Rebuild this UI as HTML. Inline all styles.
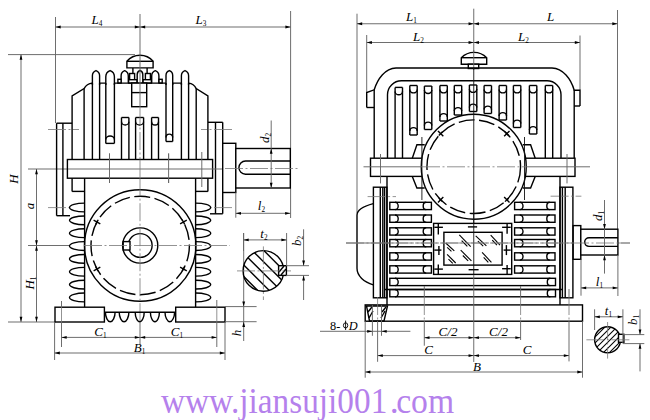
<!DOCTYPE html>
<html><head><meta charset="utf-8"><style>
html,body{margin:0;padding:0;background:#fff;width:650px;height:420px;overflow:hidden}
svg{display:block}
.k{stroke:#000;stroke-width:1.4;fill:none}
.t{stroke:#666;stroke-width:0.95;fill:none}
.c{stroke:#777;stroke-width:0.8;fill:none;stroke-dasharray:18 2.5 2 2.5}
.g{stroke:#000;stroke-width:1.1;fill:none}
.d{stroke:#111;stroke-width:0.9;fill:none}
.ah{fill:#000;stroke:none}
.lbl{font-family:"Liberation Serif",serif;font-style:italic;fill:#000}
</style></head><body>
<svg width="650" height="420" viewBox="0 0 650 420">
<rect width="650" height="420" fill="#fff"/>
<line class="t" x1="55.5" y1="17" x2="55.5" y2="123"/>
<line class="t" x1="290.6" y1="11" x2="290.6" y2="218"/>
<line class="t" x1="140" y1="14" x2="140" y2="54"/>
<line class="t" x1="55.5" y1="27" x2="140" y2="27"/>
<path class="ah" d="M55.5,27L60.7,25.6L60.7,28.4Z"/>
<path class="ah" d="M140,27L134.8,28.4L134.8,25.6Z"/>
<line class="t" x1="140" y1="27" x2="290.6" y2="27"/>
<path class="ah" d="M140,27L145.2,25.6L145.2,28.4Z"/>
<path class="ah" d="M290.6,27L285.4,28.4L285.4,25.6Z"/>
<text class="lbl" x="97" y="24" font-size="13" text-anchor="middle">L<tspan font-size="7.28" font-style="normal" dy="2.2">4</tspan></text>
<text class="lbl" x="201" y="24" font-size="13" text-anchor="middle">L<tspan font-size="7.28" font-style="normal" dy="2.2">3</tspan></text>
<line class="t" x1="8" y1="54.6" x2="135" y2="54.6"/>
<line class="t" x1="21" y1="54.6" x2="21" y2="322"/>
<path class="ah" d="M21,54.6L22.4,59.8L19.6,59.8Z"/>
<path class="ah" d="M21,322L19.6,316.8L22.4,316.8Z"/>
<line class="t" x1="8" y1="322" x2="56" y2="322"/>
<text class="lbl" x="18" y="179" font-size="13" text-anchor="middle" transform="rotate(-90 18 179)">H</text>
<line class="t" x1="28" y1="169" x2="68" y2="169"/>
<line class="t" x1="36.5" y1="169" x2="36.5" y2="245.5"/>
<path class="ah" d="M36.5,169L37.9,174.2L35.1,174.2Z"/>
<path class="ah" d="M36.5,245.5L35.1,240.3L37.9,240.3Z"/>
<text class="lbl" x="34" y="206" font-size="13" text-anchor="middle" transform="rotate(-90 34 206)">a</text>
<line class="t" x1="28" y1="245.5" x2="84" y2="245.5"/>
<line class="t" x1="36.5" y1="245.5" x2="36.5" y2="322"/>
<path class="ah" d="M36.5,245.5L37.9,250.7L35.1,250.7Z"/>
<path class="ah" d="M36.5,322L35.1,316.8L37.9,316.8Z"/>
<text class="lbl" x="34" y="283" font-size="13" text-anchor="middle" transform="rotate(-90 34 283)">H<tspan font-size="7.28" font-style="normal" dy="2.2">1</tspan></text>
<path class="k" d="M126.9,61.3 A17.1,17.1 0 0 1 153.1,61.3 L153.1,67.9 L126.9,67.9 Z" style="fill:#fff"/>
<line class="k" x1="126.9" y1="61.3" x2="153.1" y2="61.3"/>
<path class="k" d="M132.9,67.9 L132.9,79.7 M147.1,67.9 L147.1,79.7"/>
<rect class="k" x="129.6" y="73.5" width="5" height="6.2" style="fill:#fff"/>
<rect class="k" x="145.4" y="73.5" width="5" height="6.2" style="fill:#fff"/>
<rect class="k" x="128.6" y="79.7" width="8.5" height="3.4" style="fill:#fff"/>
<rect class="k" x="142.9" y="79.7" width="8.5" height="3.4" style="fill:#fff"/>
<path class="k" d="M121.1,83.1 L121.1,75.88 A5.53,5.53 0 0 1 124.7,70.7 A5.53,5.53 0 0 1 128.3,75.88 L128.3,83.1" style="fill:#fff"/>
<path class="k" d="M151.7,83.1 L151.7,75.88 A5.53,5.53 0 0 1 155.3,70.7 A5.53,5.53 0 0 1 158.9,75.88 L158.9,83.1" style="fill:#fff"/>
<path class="k" d="M137.2,83.1 L137.2,74.53 A4.3,4.3 0 0 1 140,70.5 A4.3,4.3 0 0 1 142.8,74.53 L142.8,83.1" style="fill:#fff"/>
<rect class="k" x="117.9" y="79.3" width="3.2" height="3.8" style="fill:#fff"/>
<rect class="k" x="159" y="79.3" width="3.2" height="3.8" style="fill:#fff"/>
<line class="k" x1="91.7" y1="83.1" x2="188.3" y2="83.1"/>
<path class="k" d="M92.4,85 L92.4,75.78 A5.53,5.53 0 0 1 96,70.6 A5.53,5.53 0 0 1 99.6,75.78 L99.6,85" style="fill:#fff"/>
<path class="k" d="M105.8,85 L105.8,76.79 A6.61,6.61 0 0 1 110.1,70.6 A6.61,6.61 0 0 1 114.4,76.79 L114.4,85" style="fill:#fff"/>
<path class="k" d="M166,85 L166,75.42 A5.15,5.15 0 0 1 169.35,70.6 A5.15,5.15 0 0 1 172.7,75.42 L172.7,85" style="fill:#fff"/>
<path class="k" d="M181.4,85 L181.4,75.78 A5.53,5.53 0 0 1 185,70.6 A5.53,5.53 0 0 1 188.6,75.78 L188.6,85" style="fill:#fff"/>
<path class="k" d="M72.1,159.5 L72.1,95.9 L84.1,88.6 C86,85 88.5,83.5 92.4,83.1"/>
<path class="k" d="M207.9,159.5 L207.9,95.9 L196.2,88.6 C194.5,85 192,83.4 188.6,83.1"/>
<line class="k" x1="84.1" y1="88.6" x2="84.1" y2="159.5"/>
<line class="k" x1="196.2" y1="88.6" x2="196.2" y2="159.5"/>
<line class="k" x1="92.4" y1="83.1" x2="92.4" y2="159.5"/>
<line class="k" x1="99.6" y1="83.1" x2="99.6" y2="159.5"/>
<line class="k" x1="188.6" y1="83.1" x2="188.6" y2="159.5"/>
<line class="k" x1="181.4" y1="83.1" x2="181.4" y2="159.5"/>
<line class="k" x1="105.8" y1="83.1" x2="105.8" y2="143.4"/>
<line class="k" x1="114.4" y1="83.1" x2="114.4" y2="143.4"/>
<line class="k" x1="105.8" y1="143.4" x2="114.4" y2="143.4"/>
<path class="k" d="M105.8,139.4 A4.3,3.4 0 0 1 114.4,139.4"/>
<line class="k" x1="166" y1="83.1" x2="166" y2="141.5"/>
<line class="k" x1="172.7" y1="83.1" x2="172.7" y2="141.5"/>
<line class="k" x1="166" y1="141.5" x2="172.7" y2="141.5"/>
<path class="k" d="M166,137.5 A3.35,3.4 0 0 1 172.7,137.5"/>
<rect class="k" x="131.7" y="83.1" width="15" height="23.6" style="fill:#fff"/>
<line class="k" x1="131.7" y1="92.6" x2="146.7" y2="92.6"/>
<line class="k" x1="121.5" y1="117.5" x2="121.5" y2="159.5"/>
<line class="k" x1="128.9" y1="117.5" x2="128.9" y2="159.5"/>
<line class="k" x1="121.5" y1="117.5" x2="128.9" y2="117.5"/>
<path class="k" d="M121.5,121.7 A3.7,3.3 0 0 0 128.9,121.7"/>
<line class="k" x1="135.6" y1="117.5" x2="135.6" y2="159.5"/>
<line class="k" x1="143.6" y1="117.5" x2="143.6" y2="159.5"/>
<line class="k" x1="135.6" y1="117.5" x2="143.6" y2="117.5"/>
<path class="k" d="M135.6,121.7 A4,3.3 0 0 0 143.6,121.7"/>
<line class="k" x1="151.6" y1="117.5" x2="151.6" y2="159.5"/>
<line class="k" x1="158.5" y1="117.5" x2="158.5" y2="159.5"/>
<line class="k" x1="151.6" y1="117.5" x2="158.5" y2="117.5"/>
<path class="k" d="M151.6,121.7 A3.45,3.3 0 0 0 158.5,121.7"/>
<line class="t" x1="140" y1="54" x2="140" y2="107"/>
<line class="c" x1="140" y1="107" x2="140" y2="160"/>
<line class="t" x1="109.5" y1="153.5" x2="109.5" y2="183"/>
<line class="t" x1="168.6" y1="153.5" x2="168.6" y2="183"/>
<line class="k" x1="56.6" y1="123.2" x2="56.6" y2="215.7"/>
<line class="k" x1="62.9" y1="123.2" x2="62.9" y2="215.7"/>
<line class="k" x1="56.6" y1="123.2" x2="72.1" y2="123.2"/>
<line class="k" x1="56.6" y1="215.7" x2="70" y2="215.7"/>
<line class="k" x1="72.1" y1="159.5" x2="72.1" y2="191.4"/>
<line class="k" x1="72.1" y1="191.4" x2="84.6" y2="191.4"/>
<line class="c" x1="48" y1="129.5" x2="79" y2="129.5"/>
<line class="c" x1="48" y1="207.6" x2="70" y2="207.6"/>
<line class="k" x1="222.7" y1="122.3" x2="222.7" y2="213.8"/>
<line class="k" x1="215.5" y1="122.3" x2="215.5" y2="213.8"/>
<line class="k" x1="222.7" y1="122.3" x2="208" y2="122.3"/>
<line class="k" x1="222.7" y1="213.8" x2="210" y2="213.8"/>
<line class="k" x1="207.9" y1="159.5" x2="207.9" y2="191.4"/>
<line class="k" x1="207.9" y1="191.4" x2="195.4" y2="191.4"/>
<line class="c" x1="232" y1="129.5" x2="201" y2="129.5"/>
<line class="c" x1="232" y1="207.6" x2="210" y2="207.6"/>
<rect class="k" x="67.4" y="159.5" width="145.2" height="18.7" style="fill:#fff"/>
<line class="t" x1="68" y1="169" x2="225" y2="169"/>
<line class="t" x1="109.5" y1="153.5" x2="109.5" y2="183"/>
<line class="t" x1="168.6" y1="153.5" x2="168.6" y2="183"/>
<line class="c" x1="140" y1="159.5" x2="140" y2="178.2"/>
<line class="t" x1="201.8" y1="152" x2="201.8" y2="187"/>
<path class="k" d="M84.6,203.1 A15.1,4.4 0 0 0 84.6,211.9" style="fill:#fff"/>
<path class="k" d="M195.6,203.1 A15.1,4.4 0 0 1 195.6,211.9" style="fill:#fff"/>
<path class="k" d="M84.6,215.95 A15.1,4.4 0 0 0 84.6,224.75" style="fill:#fff"/>
<path class="k" d="M195.6,215.95 A15.1,4.4 0 0 1 195.6,224.75" style="fill:#fff"/>
<path class="k" d="M84.6,228.8 A15.1,4.4 0 0 0 84.6,237.6" style="fill:#fff"/>
<path class="k" d="M195.6,228.8 A15.1,4.4 0 0 1 195.6,237.6" style="fill:#fff"/>
<path class="k" d="M84.6,241.65 A15.1,4.4 0 0 0 84.6,250.45" style="fill:#fff"/>
<path class="k" d="M195.6,241.65 A15.1,4.4 0 0 1 195.6,250.45" style="fill:#fff"/>
<path class="k" d="M84.6,254.5 A15.1,4.4 0 0 0 84.6,263.3" style="fill:#fff"/>
<path class="k" d="M195.6,254.5 A15.1,4.4 0 0 1 195.6,263.3" style="fill:#fff"/>
<path class="k" d="M84.6,267.35 A15.1,4.4 0 0 0 84.6,276.15" style="fill:#fff"/>
<path class="k" d="M195.6,267.35 A15.1,4.4 0 0 1 195.6,276.15" style="fill:#fff"/>
<path class="k" d="M84.6,280.2 A15.1,4.4 0 0 0 84.6,289" style="fill:#fff"/>
<path class="k" d="M195.6,280.2 A15.1,4.4 0 0 1 195.6,289" style="fill:#fff"/>
<path class="k" d="M84.6,293.05 A15.1,4.4 0 0 0 84.6,301.85" style="fill:#fff"/>
<path class="k" d="M195.6,293.05 A15.1,4.4 0 0 1 195.6,301.85" style="fill:#fff"/>
<circle class="k" cx="140.2" cy="245.5" r="55.7" style="fill:#fff"/>
<circle class="k" cx="140.2" cy="245.5" r="49.2" stroke-dasharray="16 4.5"/>
<circle class="k" cx="140.2" cy="245.5" r="17.6" style="fill:#fff"/>
<circle class="k" cx="140.2" cy="245.5" r="11.9"/>
<rect class="k" x="123.2" y="241.6" width="6.8" height="8.4" style="fill:#fff"/>
<line class="k" x1="180.1" y1="223.84" x2="186.78" y2="220.21"/>
<line class="k" x1="184.68" y1="224.31" x2="182.2" y2="219.74"/>
<line class="k" x1="100.3" y1="223.84" x2="93.62" y2="220.21"/>
<line class="k" x1="98.2" y1="219.74" x2="95.72" y2="224.31"/>
<line class="k" x1="100.3" y1="267.16" x2="93.62" y2="270.79"/>
<line class="k" x1="95.72" y1="266.69" x2="98.2" y2="271.26"/>
<line class="k" x1="180.1" y1="267.16" x2="186.78" y2="270.79"/>
<line class="k" x1="182.2" y1="271.26" x2="184.68" y2="266.69"/>
<line class="k" x1="84.6" y1="178.2" x2="84.6" y2="307.2"/>
<line class="k" x1="195.6" y1="178.2" x2="195.6" y2="307.2"/>
<line class="c" x1="140" y1="178.2" x2="140" y2="322"/>
<line class="c" x1="84" y1="245.5" x2="230" y2="245.5"/>
<rect class="k" x="55" y="307.2" width="49.4" height="14.8" style="fill:#fff"/>
<rect class="k" x="175.7" y="307.2" width="49.3" height="14.8" style="fill:#fff"/>
<line class="k" x1="104.4" y1="312.3" x2="175.7" y2="312.3"/>
<path class="k" d="M105.4,312.3 C105.4,317 107.75,321.8 110.25,321.8 C112.75,321.8 115.1,317 115.1,312.3"/>
<path class="k" d="M119.2,312.3 C119.2,317 121.55,321.8 124.05,321.8 C126.55,321.8 128.9,317 128.9,312.3"/>
<path class="k" d="M135.2,312.3 C135.2,317 137.2,321.8 139.7,321.8 C142.2,321.8 144.2,317 144.2,312.3"/>
<path class="k" d="M150.4,312.3 C150.4,317 152.4,321.8 154.9,321.8 C157.4,321.8 159.4,317 159.4,312.3"/>
<path class="k" d="M165,312.3 C165,317 167.3,321.8 169.8,321.8 C172.3,321.8 174.6,317 174.6,312.3"/>
<line class="t" x1="140" y1="322" x2="140" y2="345"/>
<line class="t" x1="61.5" y1="301" x2="61.5" y2="307"/>
<line class="t" x1="216.8" y1="300" x2="216.8" y2="307"/>
<line class="c" x1="61.5" y1="307" x2="61.5" y2="322"/>
<line class="c" x1="216.8" y1="307" x2="216.8" y2="322"/>
<line class="t" x1="61.5" y1="322" x2="61.5" y2="347"/>
<line class="t" x1="216.8" y1="322" x2="216.8" y2="347"/>
<line class="t" x1="54.6" y1="322" x2="54.6" y2="360"/>
<line class="t" x1="225" y1="322" x2="225" y2="360"/>
<line class="t" x1="61.5" y1="337.4" x2="140" y2="337.4"/>
<path class="ah" d="M61.5,337.4L66.7,336L66.7,338.8Z"/>
<path class="ah" d="M140,337.4L134.8,338.8L134.8,336Z"/>
<line class="t" x1="140" y1="337.4" x2="216.8" y2="337.4"/>
<path class="ah" d="M140,337.4L145.2,336L145.2,338.8Z"/>
<path class="ah" d="M216.8,337.4L211.6,338.8L211.6,336Z"/>
<line class="t" x1="54.6" y1="353" x2="225" y2="353"/>
<path class="ah" d="M54.6,353L59.8,351.6L59.8,354.4Z"/>
<path class="ah" d="M225,353L219.8,354.4L219.8,351.6Z"/>
<text class="lbl" x="100.5" y="335.5" font-size="13" text-anchor="middle">C<tspan font-size="7.28" font-style="normal" dy="2.2">1</tspan></text>
<text class="lbl" x="177" y="335.5" font-size="13" text-anchor="middle">C<tspan font-size="7.28" font-style="normal" dy="2.2">1</tspan></text>
<text class="lbl" x="139.5" y="351.5" font-size="13" text-anchor="middle">B<tspan font-size="7.28" font-style="normal" dy="2.2">1</tspan></text>
<line class="t" x1="225" y1="306.6" x2="256.6" y2="306.6"/>
<line class="t" x1="225" y1="321.7" x2="256.6" y2="321.7"/>
<line class="t" x1="243.7" y1="233" x2="243.7" y2="306.6"/>
<path class="ah" d="M243.7,306.6L242.3,301.4L245.1,301.4Z"/>
<line class="t" x1="243.7" y1="306.6" x2="243.7" y2="341"/>
<path class="ah" d="M243.7,321.7L245.1,326.9L242.3,326.9Z"/>
<text class="lbl" x="241" y="333" font-size="13" text-anchor="middle" transform="rotate(-90 241 333)">h</text>
<rect class="k" x="222.7" y="143.3" width="13.1" height="49.2" style="fill:#fff"/>
<rect class="k" x="235.8" y="148.5" width="54.5" height="39.5" style="fill:#fff"/>
<path class="k" d="M290.3,161 L245.5,161 A6.6,6.6 0 0 0 245.5,174.2 L290.3,174.2"/>
<line class="c" x1="225" y1="168.5" x2="299" y2="168.5"/>
<line class="t" x1="271.2" y1="120.5" x2="271.2" y2="148.5"/>
<line class="t" x1="271.2" y1="148.5" x2="271.2" y2="188"/>
<path class="ah" d="M271.2,148.5L272.6,153.7L269.8,153.7Z"/>
<path class="ah" d="M271.2,188L269.8,182.8L272.6,182.8Z"/>
<text class="lbl" x="268.5" y="138" font-size="13" text-anchor="middle" transform="rotate(-90 268.5 138)">d<tspan font-size="7.28" font-style="normal" dy="2.2">2</tspan></text>
<line class="t" x1="235.8" y1="192.5" x2="235.8" y2="217.7"/>
<line class="t" x1="235.8" y1="213.3" x2="290.3" y2="213.3"/>
<path class="ah" d="M235.8,213.3L241,211.9L241,214.7Z"/>
<path class="ah" d="M290.3,213.3L285.1,214.7L285.1,211.9Z"/>
<text class="lbl" x="261.5" y="210" font-size="13" text-anchor="middle">l<tspan font-size="7.28" font-style="normal" dy="2.2">2</tspan></text>
<clipPath id="cl1"><circle cx="263.4" cy="270.9" r="20.3"/></clipPath>
<g clip-path="url(#cl1)"><line class="k" x1="240" y1="215.2" x2="290" y2="265.2"/><line class="k" x1="240" y1="226.7" x2="290" y2="276.7"/><line class="k" x1="240" y1="238.2" x2="290" y2="288.2"/><line class="k" x1="240" y1="249.7" x2="290" y2="299.7"/><line class="k" x1="240" y1="261.2" x2="290" y2="311.2"/><line class="k" x1="240" y1="272.7" x2="290" y2="322.7"/></g>
<circle class="k" cx="263.4" cy="270.9" r="20.3"/>
<rect class="k" x="278.6" y="265.7" width="7.8" height="9.7" style="fill:#fff"/>
<line class="k" x1="279" y1="272" x2="284" y2="266"/><line class="k" x1="281" y1="275" x2="286" y2="269"/>
<line class="c" x1="237" y1="270.9" x2="291" y2="270.9"/>
<line class="c" x1="263.4" y1="246.4" x2="263.4" y2="300"/>
<line class="t" x1="243.5" y1="233" x2="243.5" y2="251"/>
<line class="t" x1="286.6" y1="233" x2="286.6" y2="266"/>
<line class="t" x1="243.5" y1="239.9" x2="286.6" y2="239.9"/>
<path class="ah" d="M243.5,239.9L248.7,238.5L248.7,241.3Z"/>
<path class="ah" d="M286.6,239.9L281.4,241.3L281.4,238.5Z"/>
<text class="lbl" x="264" y="238" font-size="13" text-anchor="middle">t<tspan font-size="7.28" font-style="normal" dy="2.2">2</tspan></text>
<line class="t" x1="286" y1="265.7" x2="309" y2="265.7"/>
<line class="t" x1="286" y1="275.4" x2="309" y2="275.4"/>
<line class="t" x1="303.6" y1="229.3" x2="303.6" y2="265.7"/>
<path class="ah" d="M303.6,265.7L302.2,260.5L305,260.5Z"/>
<line class="t" x1="303.6" y1="275.4" x2="303.6" y2="300"/>
<path class="ah" d="M303.6,275.4L305,280.6L302.2,280.6Z"/>
<text class="lbl" x="300.5" y="241" font-size="13" text-anchor="middle" transform="rotate(-90 300.5 241)">b<tspan font-size="7.28" font-style="normal" dy="2.2">2</tspan></text>
<line class="t" x1="357" y1="13.7" x2="357" y2="213"/>
<line class="t" x1="366.7" y1="35" x2="366.7" y2="92"/>
<line class="t" x1="617.5" y1="10" x2="617.5" y2="229"/>
<line class="t" x1="580" y1="35.5" x2="580" y2="90"/>
<line class="t" x1="473.75" y1="8.7" x2="473.75" y2="70"/>
<line class="t" x1="357" y1="23.75" x2="473.75" y2="23.75"/>
<path class="ah" d="M357,23.75L362.2,22.35L362.2,25.15Z"/>
<path class="ah" d="M473.75,23.75L468.55,25.15L468.55,22.35Z"/>
<line class="t" x1="473.75" y1="23.75" x2="617.5" y2="23.75"/>
<path class="ah" d="M473.75,23.75L478.95,22.35L478.95,25.15Z"/>
<path class="ah" d="M617.5,23.75L612.3,25.15L612.3,22.35Z"/>
<line class="t" x1="366.7" y1="42.5" x2="473.75" y2="42.5"/>
<path class="ah" d="M366.7,42.5L371.9,41.1L371.9,43.9Z"/>
<path class="ah" d="M473.75,42.5L468.55,43.9L468.55,41.1Z"/>
<line class="t" x1="473.75" y1="42.5" x2="580" y2="42.5"/>
<path class="ah" d="M473.75,42.5L478.95,41.1L478.95,43.9Z"/>
<path class="ah" d="M580,42.5L574.8,43.9L574.8,41.1Z"/>
<text class="lbl" x="411.5" y="21" font-size="13" text-anchor="middle">L<tspan font-size="7.28" font-style="normal" dy="2.2">1</tspan></text>
<text class="lbl" x="550.5" y="21" font-size="13" text-anchor="middle">L</text>
<text class="lbl" x="418.5" y="40.5" font-size="13" text-anchor="middle">L<tspan font-size="7.28" font-style="normal" dy="2.2">2</tspan></text>
<text class="lbl" x="523.5" y="40.5" font-size="13" text-anchor="middle">L<tspan font-size="7.28" font-style="normal" dy="2.2">2</tspan></text>
<path class="k" d="M461.3,57.7 A17.8,17.8 0 0 1 486.7,57.7 L486.7,64.2 L461.3,64.2 Z" style="fill:#fff"/>
<line class="k" x1="461.3" y1="57.7" x2="486.7" y2="57.7"/>
<rect class="k" x="468.3" y="64.2" width="10.4" height="4.3" style="fill:#fff"/>
<line class="t" x1="473.75" y1="50" x2="473.75" y2="69"/>
<path class="k" d="M366.7,107.5 L366.7,92.6 L374.2,89.8 C377.5,79 385,68.3 396,68 L552,68 C563,68.3 571,79 574.2,90.2 L580,90.2 L580,106"/>
<line class="k" x1="366.7" y1="107.5" x2="374.2" y2="107.5"/>
<line class="k" x1="574.2" y1="106" x2="580" y2="106"/>
<line class="k" x1="374.2" y1="89.8" x2="374.2" y2="158.2"/>
<line class="k" x1="574.2" y1="90.2" x2="574.2" y2="158.2"/>
<path class="k" d="M387.5,158.2 L387.5,95 A14,14 0 0 1 401.5,80.8 L547,80.8 A14,14 0 0 1 561,95 L561,158.2"/>
<line class="k" x1="395.1" y1="87.4" x2="395.1" y2="158.2"/>
<line class="k" x1="402.5" y1="87.4" x2="402.5" y2="158.2"/>
<line class="k" x1="395.1" y1="87.4" x2="402.5" y2="87.4"/>
<path class="k" d="M395.1,91.4 A3.7,3.4 0 0 0 402.5,91.4"/>
<line class="k" x1="409.8" y1="85.5" x2="409.8" y2="135"/>
<line class="k" x1="417.2" y1="85.5" x2="417.2" y2="135"/>
<line class="k" x1="409.8" y1="85.5" x2="417.2" y2="85.5"/>
<path class="k" d="M409.8,89.5 A3.7,3.4 0 0 0 417.2,89.5"/>
<line class="k" x1="409.8" y1="135" x2="417.2" y2="135"/>
<path class="k" d="M409.8,131 A3.7,3.4 0 0 1 417.2,131"/>
<line class="k" x1="424.4" y1="86.1" x2="424.4" y2="129.5"/>
<line class="k" x1="431.8" y1="86.1" x2="431.8" y2="129.5"/>
<line class="k" x1="424.4" y1="86.1" x2="431.8" y2="86.1"/>
<path class="k" d="M424.4,90.1 A3.7,3.4 0 0 0 431.8,90.1"/>
<line class="k" x1="424.4" y1="129.5" x2="431.8" y2="129.5"/>
<path class="k" d="M424.4,125.5 A3.7,3.4 0 0 1 431.8,125.5"/>
<line class="k" x1="439.9" y1="85.5" x2="439.9" y2="121"/>
<line class="k" x1="447.3" y1="85.5" x2="447.3" y2="121"/>
<line class="k" x1="439.9" y1="85.5" x2="447.3" y2="85.5"/>
<path class="k" d="M439.9,89.5 A3.7,3.4 0 0 0 447.3,89.5"/>
<line class="k" x1="439.9" y1="121" x2="447.3" y2="121"/>
<path class="k" d="M439.9,117 A3.7,3.4 0 0 1 447.3,117"/>
<line class="k" x1="454.3" y1="85.5" x2="454.3" y2="115"/>
<line class="k" x1="461.7" y1="85.5" x2="461.7" y2="115"/>
<line class="k" x1="454.3" y1="85.5" x2="461.7" y2="85.5"/>
<path class="k" d="M454.3,89.5 A3.7,3.4 0 0 0 461.7,89.5"/>
<line class="k" x1="454.3" y1="115" x2="461.7" y2="115"/>
<path class="k" d="M454.3,111 A3.7,3.4 0 0 1 461.7,111"/>
<line class="k" x1="469.4" y1="85" x2="469.4" y2="111.5"/>
<line class="k" x1="476.8" y1="85" x2="476.8" y2="111.5"/>
<line class="k" x1="469.4" y1="85" x2="476.8" y2="85"/>
<path class="k" d="M469.4,89 A3.7,3.4 0 0 0 476.8,89"/>
<line class="k" x1="469.4" y1="111.5" x2="476.8" y2="111.5"/>
<path class="k" d="M469.4,107.5 A3.7,3.4 0 0 1 476.8,107.5"/>
<line class="k" x1="484.1" y1="85.5" x2="484.1" y2="113.5"/>
<line class="k" x1="491.5" y1="85.5" x2="491.5" y2="113.5"/>
<line class="k" x1="484.1" y1="85.5" x2="491.5" y2="85.5"/>
<path class="k" d="M484.1,89.5 A3.7,3.4 0 0 0 491.5,89.5"/>
<line class="k" x1="484.1" y1="113.5" x2="491.5" y2="113.5"/>
<path class="k" d="M484.1,109.5 A3.7,3.4 0 0 1 491.5,109.5"/>
<line class="k" x1="499.1" y1="85.5" x2="499.1" y2="120"/>
<line class="k" x1="506.5" y1="85.5" x2="506.5" y2="120"/>
<line class="k" x1="499.1" y1="85.5" x2="506.5" y2="85.5"/>
<path class="k" d="M499.1,89.5 A3.7,3.4 0 0 0 506.5,89.5"/>
<line class="k" x1="499.1" y1="120" x2="506.5" y2="120"/>
<path class="k" d="M499.1,116 A3.7,3.4 0 0 1 506.5,116"/>
<line class="k" x1="513.4" y1="85.5" x2="513.4" y2="127.5"/>
<line class="k" x1="520.8" y1="85.5" x2="520.8" y2="127.5"/>
<line class="k" x1="513.4" y1="85.5" x2="520.8" y2="85.5"/>
<path class="k" d="M513.4,89.5 A3.7,3.4 0 0 0 520.8,89.5"/>
<line class="k" x1="513.4" y1="127.5" x2="520.8" y2="127.5"/>
<path class="k" d="M513.4,123.5 A3.7,3.4 0 0 1 520.8,123.5"/>
<line class="k" x1="529.4" y1="85.5" x2="529.4" y2="134"/>
<line class="k" x1="536.8" y1="85.5" x2="536.8" y2="134"/>
<line class="k" x1="529.4" y1="85.5" x2="536.8" y2="85.5"/>
<path class="k" d="M529.4,89.5 A3.7,3.4 0 0 0 536.8,89.5"/>
<line class="k" x1="529.4" y1="134" x2="536.8" y2="134"/>
<path class="k" d="M529.4,130 A3.7,3.4 0 0 1 536.8,130"/>
<line class="k" x1="545.3" y1="85.5" x2="545.3" y2="158.2"/>
<line class="k" x1="552.7" y1="85.5" x2="552.7" y2="158.2"/>
<line class="k" x1="545.3" y1="85.5" x2="552.7" y2="85.5"/>
<path class="k" d="M545.3,89.5 A3.7,3.4 0 0 0 552.7,89.5"/>
<rect class="k" x="370.5" y="158.2" width="204.5" height="18.2" style="fill:#fff"/>
<path class="k" d="M412.3,158.2 L416.9,144.7 L424.7,144.7"/>
<path class="k" d="M412.3,176.4 L416.9,188 L424.7,188"/>
<line class="t" x1="380.5" y1="154" x2="380.5" y2="183.4"/>
<path class="k" d="M535.2,158.2 L530.6,144.7 L522.8,144.7"/>
<path class="k" d="M535.2,176.4 L530.6,188 L522.8,188"/>
<line class="t" x1="567" y1="154" x2="567" y2="183.4"/>
<circle class="k" cx="473.75" cy="166.7" r="52.5" style="fill:#fff"/>
<line class="d" x1="421.9" y1="137" x2="421.9" y2="200"/>
<line class="d" x1="524.5" y1="137" x2="524.5" y2="200"/>
<circle class="k" cx="473.75" cy="166.7" r="46.8" stroke-dasharray="16 4.5"/>
<line class="k" x1="504.16" y1="136.29" x2="509.53" y2="130.92"/>
<line class="k" x1="508.68" y1="135.45" x2="505" y2="131.77"/>
<line class="k" x1="443.34" y1="136.29" x2="437.97" y2="130.92"/>
<line class="k" x1="442.5" y1="131.77" x2="438.82" y2="135.45"/>
<line class="k" x1="443.34" y1="197.11" x2="437.97" y2="202.48"/>
<line class="k" x1="438.82" y1="197.95" x2="442.5" y2="201.63"/>
<line class="k" x1="504.16" y1="197.11" x2="509.53" y2="202.48"/>
<line class="k" x1="505" y1="201.63" x2="508.68" y2="197.95"/>
<line class="t" x1="363.5" y1="166.8" x2="422" y2="166.8"/>
<line class="c" x1="422" y1="166.8" x2="526" y2="166.8"/>
<line class="t" x1="526" y1="166.8" x2="590" y2="166.8"/>
<line class="d" x1="473.75" y1="69" x2="473.75" y2="225"/>
<path class="k" d="M373.3,203.6 C364,206 357,209 357,215.2 L357,268.3 C357,276 364,282 373.3,284.8"/>
<rect class="k" x="373.4" y="187.2" width="13.5" height="110.6" style="fill:#fff"/>
<line class="k" x1="380.3" y1="187.2" x2="380.3" y2="297.8"/>
<line class="k" x1="382.8" y1="187.2" x2="382.8" y2="297.8"/>
<line class="k" x1="384.6" y1="187.2" x2="384.6" y2="297.8"/>
<rect class="k" x="560" y="187.2" width="12.9" height="110.6" style="fill:#fff"/>
<line class="k" x1="562.4" y1="187.2" x2="562.4" y2="297.8"/>
<line class="k" x1="565.2" y1="187.2" x2="565.2" y2="297.8"/>
<line class="c" x1="367.6" y1="196.6" x2="396" y2="196.6"/>
<line class="c" x1="550.6" y1="196.2" x2="581.4" y2="196.2"/>
<line class="k" x1="387" y1="176.4" x2="387" y2="305.2"/>
<line class="k" x1="560" y1="176.4" x2="560" y2="305.2"/>
<rect class="k" x="389.8" y="202.3" width="41.6" height="7.3" style="fill:#fff"/>
<path class="k" d="M395,202.3 A3.2,3.65 0 0 1 395,209.6"/>
<path class="k" d="M426.2,202.3 A3.0,3.65 0 0 0 426.2,209.6"/>
<rect class="k" x="514.6" y="202.3" width="40.4" height="7.3" style="fill:#fff"/>
<path class="k" d="M519.8,202.3 A3.2,3.65 0 0 1 519.8,209.6"/>
<path class="k" d="M549.8,202.3 A3.0,3.65 0 0 0 549.8,209.6"/>
<rect class="k" x="389.8" y="215" width="41.6" height="7.3" style="fill:#fff"/>
<path class="k" d="M395,215 A3.2,3.65 0 0 1 395,222.3"/>
<path class="k" d="M426.2,215 A3.0,3.65 0 0 0 426.2,222.3"/>
<rect class="k" x="514.6" y="215" width="40.4" height="7.3" style="fill:#fff"/>
<path class="k" d="M519.8,215 A3.2,3.65 0 0 1 519.8,222.3"/>
<path class="k" d="M549.8,215 A3.0,3.65 0 0 0 549.8,222.3"/>
<rect class="k" x="389.8" y="227.8" width="41.6" height="7.3" style="fill:#fff"/>
<path class="k" d="M395,227.8 A3.2,3.65 0 0 1 395,235.1"/>
<path class="k" d="M426.2,227.8 A3.0,3.65 0 0 0 426.2,235.1"/>
<rect class="k" x="514.6" y="227.8" width="40.4" height="7.3" style="fill:#fff"/>
<path class="k" d="M519.8,227.8 A3.2,3.65 0 0 1 519.8,235.1"/>
<path class="k" d="M549.8,227.8 A3.0,3.65 0 0 0 549.8,235.1"/>
<rect class="k" x="389.8" y="239.5" width="41.6" height="7.3" style="fill:#fff"/>
<path class="k" d="M395,239.5 A3.2,3.65 0 0 1 395,246.8"/>
<path class="k" d="M426.2,239.5 A3.0,3.65 0 0 0 426.2,246.8"/>
<rect class="k" x="514.6" y="239.5" width="40.4" height="7.3" style="fill:#fff"/>
<path class="k" d="M519.8,239.5 A3.2,3.65 0 0 1 519.8,246.8"/>
<path class="k" d="M549.8,239.5 A3.0,3.65 0 0 0 549.8,246.8"/>
<rect class="k" x="389.8" y="252.8" width="41.6" height="7.3" style="fill:#fff"/>
<path class="k" d="M395,252.8 A3.2,3.65 0 0 1 395,260.1"/>
<path class="k" d="M426.2,252.8 A3.0,3.65 0 0 0 426.2,260.1"/>
<rect class="k" x="514.6" y="252.8" width="40.4" height="7.3" style="fill:#fff"/>
<path class="k" d="M519.8,252.8 A3.2,3.65 0 0 1 519.8,260.1"/>
<path class="k" d="M549.8,252.8 A3.0,3.65 0 0 0 549.8,260.1"/>
<rect class="k" x="389.8" y="265.8" width="41.6" height="7.3" style="fill:#fff"/>
<path class="k" d="M395,265.8 A3.2,3.65 0 0 1 395,273.1"/>
<path class="k" d="M426.2,265.8 A3.0,3.65 0 0 0 426.2,273.1"/>
<rect class="k" x="514.6" y="265.8" width="40.4" height="7.3" style="fill:#fff"/>
<path class="k" d="M519.8,265.8 A3.2,3.65 0 0 1 519.8,273.1"/>
<path class="k" d="M549.8,265.8 A3.0,3.65 0 0 0 549.8,273.1"/>
<rect class="k" x="389.8" y="278.3" width="165.7" height="7.3" style="fill:#fff"/>
<path class="k" d="M395,278.3 A3.2,3.65 0 0 1 395,285.6"/>
<path class="k" d="M550.3,278.3 A3.0,3.65 0 0 0 550.3,285.6"/>
<rect class="k" x="389.8" y="289.5" width="165.7" height="7.3" style="fill:#fff"/>
<path class="k" d="M395,289.5 A3.2,3.65 0 0 1 395,296.8"/>
<path class="k" d="M550.3,289.5 A3.0,3.65 0 0 0 550.3,296.8"/>
<line class="k" x1="384.1" y1="289.5" x2="563" y2="289.5"/>
<rect class="k" x="433.6" y="223.4" width="78.1" height="51" style="fill:#fff"/>
<rect class="k" x="443.9" y="232.3" width="58.2" height="32.8" style="fill:#fff"/>
<line class="k" x1="434.3" y1="227.3" x2="442.9" y2="227.3"/>
<line class="k" x1="438.3" y1="223.7" x2="438.3" y2="234.4"/>
<line class="k" x1="502.1" y1="227.3" x2="510.7" y2="227.3"/>
<line class="k" x1="507.1" y1="223.7" x2="507.1" y2="233.7"/>
<line class="k" x1="434.3" y1="250.1" x2="441.4" y2="250.1"/>
<line class="k" x1="438.9" y1="245.9" x2="438.9" y2="255.1"/>
<line class="k" x1="503.6" y1="250.1" x2="510.7" y2="250.1"/>
<line class="k" x1="506.4" y1="245.1" x2="506.4" y2="255.1"/>
<line class="k" x1="434.3" y1="269.1" x2="442.9" y2="269.1"/>
<line class="k" x1="438.3" y1="264.4" x2="438.3" y2="274.4"/>
<line class="k" x1="502.1" y1="268.7" x2="510.7" y2="268.7"/>
<line class="k" x1="507.1" y1="265.1" x2="507.1" y2="274.4"/>
<line class="k" x1="467.9" y1="226.9" x2="477.1" y2="226.9"/>
<line class="k" x1="468.6" y1="269.7" x2="478.6" y2="269.7"/>
<line class="g" x1="459.3" y1="234.9" x2="470.7" y2="246.6"/>
<line class="g" x1="461.64" y1="240.6" x2="467.34" y2="246.45"/>
<line class="g" x1="475.7" y1="235.9" x2="486.4" y2="245.9"/>
<line class="g" x1="477.87" y1="241.08" x2="483.22" y2="246.08"/>
<line class="g" x1="490.7" y1="235.1" x2="500" y2="245.1"/>
<line class="g" x1="492.27" y1="240.17" x2="496.92" y2="245.17"/>
<line class="g" x1="445.7" y1="243" x2="454.3" y2="250.9"/>
<line class="g" x1="447.15" y1="247.46" x2="451.45" y2="251.41"/>
<line class="g" x1="447.1" y1="254.4" x2="455.7" y2="263"/>
<line class="g" x1="448.48" y1="259.04" x2="452.78" y2="263.34"/>
<line class="g" x1="460.7" y1="250.1" x2="471.4" y2="260.9"/>
<line class="g" x1="462.81" y1="255.5" x2="468.16" y2="260.9"/>
<line class="g" x1="482.1" y1="252.3" x2="491.4" y2="262.3"/>
<line class="g" x1="483.67" y1="257.37" x2="488.32" y2="262.37"/>
<line class="t" x1="346" y1="243" x2="390" y2="243"/>
<line class="c" x1="390" y1="243" x2="630" y2="243"/>
<line class="d" x1="473.75" y1="200" x2="473.75" y2="275"/>
<rect class="k" x="573.2" y="225.6" width="7.6" height="33.7" style="fill:#fff"/>
<rect class="k" x="580.8" y="229.2" width="37.1" height="25.8" style="fill:#fff"/>
<path class="k" d="M617.9,237.8 L589,237.8 A4.3,4.3 0 0 0 589,246.4 L617.9,246.4"/>
<line class="c" x1="346" y1="243" x2="630" y2="243"/>
<line class="t" x1="604.5" y1="200" x2="604.5" y2="229.2"/>
<path class="ah" d="M604.5,229.2L603.1,224L605.9,224Z"/>
<line class="t" x1="604.5" y1="229.2" x2="604.5" y2="273.6"/>
<path class="ah" d="M604.5,255L605.9,260.2L603.1,260.2Z"/>
<text class="lbl" x="601.5" y="216" font-size="13" text-anchor="middle" transform="rotate(-90 601.5 216)">d<tspan font-size="7.28" font-style="normal" dy="2.2">1</tspan></text>
<line class="t" x1="581" y1="259.3" x2="581" y2="295.7"/>
<line class="t" x1="617.9" y1="255" x2="617.9" y2="296"/>
<line class="t" x1="581" y1="287.9" x2="617.9" y2="287.9"/>
<path class="ah" d="M581,287.9L586.2,286.5L586.2,289.3Z"/>
<path class="ah" d="M617.9,287.9L612.7,289.3L612.7,286.5Z"/>
<text class="lbl" x="599.5" y="285.5" font-size="13" text-anchor="middle">l<tspan font-size="7.28" font-style="normal" dy="2.2">1</tspan></text>
<rect class="k" x="365.2" y="304.9" width="217.3" height="16.3" style="fill:#fff"/>
<path class="k" d="M366.5,306 L387.5,306 L384,321 L369.5,321 Z"/>
<line class="k" x1="368" y1="312" x2="372" y2="307"/><line class="k" x1="369" y1="318" x2="373" y2="311"/><line class="k" x1="382" y1="312" x2="386" y2="307"/><line class="k" x1="381" y1="318" x2="385" y2="311"/>
<line class="t" x1="372.4" y1="305" x2="372.4" y2="335.8"/>
<line class="t" x1="381.5" y1="305" x2="381.5" y2="335.8"/>
<line class="t" x1="320" y1="331.3" x2="410.4" y2="331.3"/>
<path class="ah" d="M372.4,331.3L367.2,332.7L367.2,329.9Z"/>
<path class="ah" d="M381.5,331.3L386.7,329.9L386.7,332.7Z"/>
<text class="lbl" x="330" y="329.5" font-size="12.3" style="font-style:normal">8-</text>
<line x1="345.6" y1="320.6" x2="345.6" y2="330" stroke="#000" stroke-width="0.9"/><ellipse cx="345.6" cy="325.4" rx="2.2" ry="2.6" fill="none" stroke="#000" stroke-width="0.9"/>
<text class="lbl" x="348.8" y="329.5" font-size="12.3">D</text>
<line class="t" x1="473.75" y1="275" x2="473.75" y2="362"/>
<line class="c" x1="377.6" y1="297" x2="377.6" y2="321"/>
<line class="c" x1="424.3" y1="297" x2="424.3" y2="321"/>
<line class="c" x1="520.6" y1="297" x2="520.6" y2="321"/>
<line class="c" x1="569" y1="297" x2="569" y2="321"/>
<line class="t" x1="377.6" y1="321" x2="377.6" y2="361.8"/>
<line class="t" x1="569" y1="289" x2="569" y2="297"/>
<line class="t" x1="569" y1="321" x2="569" y2="361.4"/>
<line class="t" x1="365.2" y1="321.2" x2="365.2" y2="377.7"/>
<line class="t" x1="582.5" y1="321.2" x2="582.5" y2="377.7"/>
<line class="t" x1="424.3" y1="286" x2="424.3" y2="297"/>
<line class="t" x1="520.6" y1="286" x2="520.6" y2="297"/>
<line class="t" x1="424.3" y1="321" x2="424.3" y2="345.7"/>
<line class="t" x1="520.6" y1="321" x2="520.6" y2="340"/>
<line class="t" x1="424.3" y1="337.7" x2="473.75" y2="337.7"/>
<path class="ah" d="M424.3,337.7L429.5,336.3L429.5,339.1Z"/>
<path class="ah" d="M473.75,337.7L468.55,339.1L468.55,336.3Z"/>
<line class="t" x1="473.75" y1="337.7" x2="520.6" y2="337.7"/>
<path class="ah" d="M473.75,337.7L478.95,336.3L478.95,339.1Z"/>
<path class="ah" d="M520.6,337.7L515.4,339.1L515.4,336.3Z"/>
<line class="t" x1="377.6" y1="355.6" x2="473.75" y2="355.6"/>
<path class="ah" d="M377.6,355.6L382.8,354.2L382.8,357Z"/>
<path class="ah" d="M473.75,355.6L468.55,357L468.55,354.2Z"/>
<line class="t" x1="473.75" y1="355.6" x2="569" y2="355.6"/>
<path class="ah" d="M473.75,355.6L478.95,354.2L478.95,357Z"/>
<path class="ah" d="M569,355.6L563.8,357L563.8,354.2Z"/>
<line class="t" x1="365.2" y1="372" x2="582.5" y2="372"/>
<path class="ah" d="M365.2,372L370.4,370.6L370.4,373.4Z"/>
<path class="ah" d="M582.5,372L577.3,373.4L577.3,370.6Z"/>
<text class="lbl" x="448" y="336" font-size="13" text-anchor="middle">C/2</text>
<text class="lbl" x="498.5" y="336" font-size="13" text-anchor="middle">C/2</text>
<text class="lbl" x="428.5" y="354" font-size="13" text-anchor="middle">C</text>
<text class="lbl" x="527" y="354" font-size="13" text-anchor="middle">C</text>
<text class="lbl" x="477" y="371" font-size="13" text-anchor="middle">B</text>
<clipPath id="cl2"><circle cx="607.6" cy="339.8" r="13"/></clipPath>
<g clip-path="url(#cl2)"><line class="g" x1="590" y1="342" x2="625" y2="307"/><line class="g" x1="590" y1="348" x2="625" y2="313"/><line class="g" x1="590" y1="354" x2="625" y2="319"/><line class="g" x1="590" y1="360" x2="625" y2="325"/><line class="g" x1="590" y1="366" x2="625" y2="331"/><line class="g" x1="590" y1="372" x2="625" y2="337"/></g>
<circle class="k" cx="607.6" cy="339.8" r="13"/>
<rect class="k" x="618.5" y="334.3" width="5.4" height="8" style="fill:#fff"/>
<line class="c" x1="586.4" y1="339.8" x2="631.4" y2="339.8"/>
<line class="c" x1="607.6" y1="322" x2="607.6" y2="358.6"/>
<line class="t" x1="594.6" y1="309.3" x2="594.6" y2="330"/>
<line class="t" x1="622.9" y1="309.3" x2="622.9" y2="343.6"/>
<line class="t" x1="594.6" y1="316.8" x2="622.9" y2="316.8"/>
<path class="ah" d="M594.6,316.8L599.8,315.4L599.8,318.2Z"/>
<path class="ah" d="M622.9,316.8L617.7,318.2L617.7,315.4Z"/>
<text class="lbl" x="608.5" y="315" font-size="13" text-anchor="middle">t<tspan font-size="7.28" font-style="normal" dy="2.2">1</tspan></text>
<line class="t" x1="623" y1="334.6" x2="644.3" y2="334.6"/>
<line class="t" x1="623" y1="343.6" x2="644.3" y2="343.6"/>
<line class="t" x1="640" y1="309.3" x2="640" y2="334.6"/>
<path class="ah" d="M640,334.6L638.6,329.4L641.4,329.4Z"/>
<line class="t" x1="640" y1="343.6" x2="640" y2="371.4"/>
<path class="ah" d="M640,343.6L641.4,348.8L638.6,348.8Z"/>
<text class="lbl" x="637" y="320" font-size="13" text-anchor="middle" transform="rotate(-90 637 320)">b<tspan font-size="7.28" font-style="normal" dy="2.2">1</tspan></text>
<g font-family="Liberation Serif" font-size="36" fill="#b581ec"><text x="161" y="412.5" textLength="226.3" lengthAdjust="spacingAndGlyphs">www.jiansuji001</text><text x="389.7" y="412.5">.</text><text x="396.2" y="412.5" textLength="57.9" lengthAdjust="spacingAndGlyphs">com</text></g>
</svg></body></html>
